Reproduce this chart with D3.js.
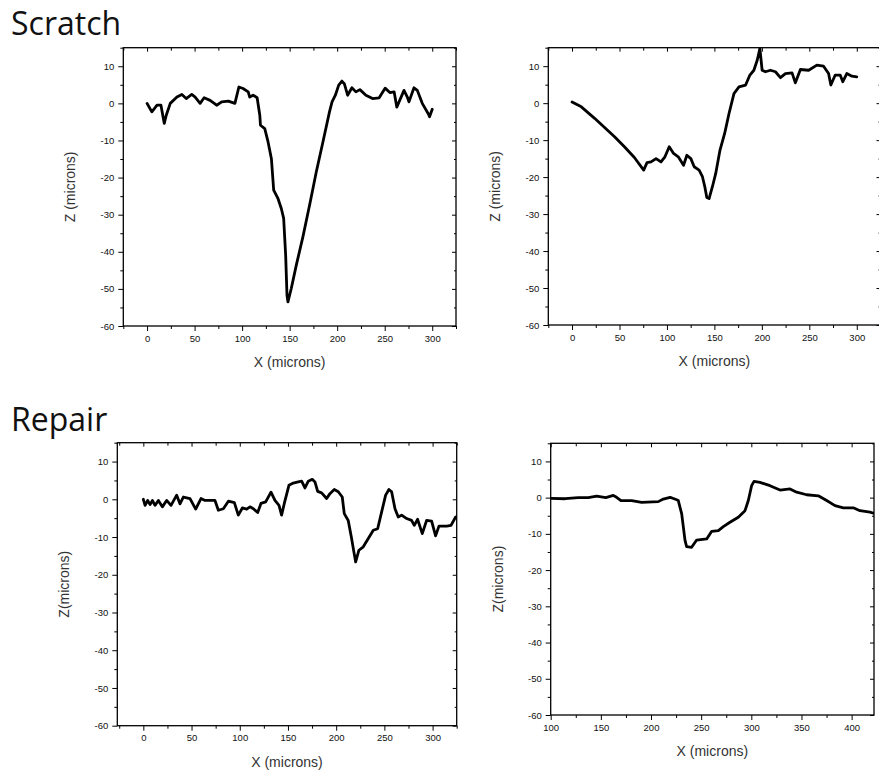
<!DOCTYPE html>
<html>
<head>
<meta charset="utf-8">
<script src="https://cdnjs.cloudflare.com/ajax/libs/d3/7.8.5/d3.min.js"></script>
<style>
  body { margin: 0; background: #fff; }
  svg { display: block; }
  .tick text { font-family: "Liberation Sans", Arial, sans-serif; font-size: 9.5px; fill: #111; }
  .axis path.domain { display: none; }
  .axis line { stroke: #000; stroke-width: 1; }
  .lab { font-family: "Liberation Sans", Arial, sans-serif; font-size: 14px; fill: #333; }
  .title { font-family: "Open Sans", sans-serif; font-size: 32px; fill: #111; }
</style>
</head>
<body>
<div id="chart"></div>
<script>
// Scratch, left profile
const scratchAX = [0, 5, 10.5, 14.6, 18.1, 20.2, 24.4, 31.4, 36.6, 41.2, 47, 50.6, 55.8, 60, 66.3, 73.2, 78.5, 85.5, 92.4, 96.6, 101, 106.4, 108, 111.6, 115.8, 118.6, 119.3, 123.8, 127.3, 130.8, 133.2, 137.8, 141.3, 143.7, 145.8, 147.2, 148.2, 151.7, 157, 164, 171, 178, 185, 191.9, 194.6, 198.1, 201.6, 205, 207.5, 211, 215.5, 219.7, 223.9, 230.2, 237.2, 244.2, 250.4, 255.4, 259.9, 262.7, 265.1, 270.3, 273.8, 275.5, 280.8, 284.3, 289.5, 295.8, 297.2, 300];
const scratchAZ = [0, -2.3, -0.5, -0.5, -5.4, -3.2, 0, 1.7, 2.4, 1.3, 2.4, 1.7, 0, 1.5, 0.8, -0.5, 0.4, 0.6, 0, 4.4, 4, 3.1, 1.7, 2.2, 1.5, -3.2, -5.9, -6.8, -10.4, -14.9, -23.4, -25.7, -28.4, -31, -40.9, -51.7, -53.5, -49.9, -43.6, -35.9, -27.4, -18.5, -10.4, -2.3, 0.4, 2.2, 4.9, 6, 5.3, 2.2, 4.2, 3.1, 3.7, 2.2, 1.3, 1.5, 4.1, 2.9, 3.1, -1, 0.4, 3.5, 1.7, 0.4, 4.2, 3.5, 0, -2.8, -3.6, -1.6];

// Scratch, right profile
const scratchBX = [0, 9.8, 23.8, 34.3, 44.8, 55.2, 65.7, 75.5, 79, 83.2, 88.5, 93.7, 97.9, 102.4, 107, 111.9, 117.5, 121, 125.2, 128.7, 133.9, 137.4, 139.9, 142, 144.4, 147.9, 151.4, 155.9, 160.8, 165.4, 170.6, 175.9, 182.9, 187.4, 191.6, 195.1, 197.9, 200.3, 203.8, 209, 214.3, 219.6, 224.8, 231.8, 235.3, 240.6, 249.3, 258, 265, 270.3, 272.7, 277.3, 282.5, 285.3, 289.5, 294.8, 300];
const scratchBZ = [0.3, -1, -4.1, -6.6, -9.1, -11.8, -14.7, -18.1, -16.1, -15.9, -15, -15.9, -14.5, -11.8, -13.6, -14.5, -16.8, -14.1, -15, -17.2, -18.1, -19.9, -22.6, -25.5, -25.8, -22.6, -19, -12.7, -8.2, -2.8, 2.6, 4.4, 4.9, 7.6, 8.9, 11.6, 14.8, 8.9, 8.5, 8.9, 8.5, 6.9, 8, 8.2, 5.5, 9.1, 8.9, 10.3, 10, 8, 4.9, 7.6, 7.6, 5.8, 8, 7.3, 7.1];

// Repair, left profile
const repairAX = [0, 1.8, 4.5, 7, 9.4, 12.1, 15.6, 19.7, 24.2, 28.7, 34.6, 38, 41.5, 48.4, 54.3, 59.8, 64, 74.3, 77.8, 83, 88.2, 94.4, 98.5, 102.7, 107.2, 110.6, 114.1, 118.6, 122, 126.9, 132.4, 136.5, 140.7, 143.4, 146.2, 151, 155.5, 160.7, 164.2, 167.6, 171.1, 175.2, 178, 180.8, 184.9, 190.1, 193.5, 198, 202.2, 206.3, 208.4, 212.5, 216, 218.4, 220.2, 223.6, 228.1, 233.3, 238.5, 243, 247.1, 251.3, 254.7, 257.5, 261, 264.4, 267.9, 273.1, 278.2, 281, 284.4, 289.3, 293.8, 299, 303.1, 306.6, 314.6, 319.1, 323.9, 327];
const repairAZ = [0, -1.6, -0.3, -1.4, -0.3, -1.6, -0.3, -2, -0.3, -1.6, 1.1, -1.2, 0.6, 0.2, -2.6, 0.2, -0.3, -0.3, -2.9, -2.5, -0.5, -0.9, -4.2, -2.3, -2.6, -2, -2.5, -3.5, -1.1, -0.7, 1.9, -0.3, -1.6, -4.2, -1.1, 3.7, 4.3, 4.6, 4.8, 3, 4.8, 5.3, 4.6, 2.1, 1.7, 0.2, 1.5, 2.6, 2, 0.6, -3.8, -5.6, -10.4, -14, -16.6, -13.5, -12.6, -10.4, -8.2, -7.8, -3.4, 1.1, 2.6, 2, -2.5, -4.7, -4.2, -5.1, -5.6, -6.9, -5.3, -9.1, -5.6, -5.8, -9.7, -7.1, -7.1, -6.9, -4.7, -4.4];

// Repair, right profile
const repairBX = [100, 114.3, 127.5, 137.5, 145.8, 155, 162.4, 165.7, 170, 180.7, 190.7, 207.3, 212.3, 219, 225.6, 227.2, 230.6, 233.9, 235.5, 240.5, 245.5, 255.5, 260.5, 267.1, 272.1, 278.7, 287, 293.7, 297, 300.3, 302.7, 308.6, 318.6, 328.6, 338.6, 345.2, 355.1, 366.8, 375.1, 383.4, 391.7, 401.7, 408.3, 418.3, 424.3];
const repairBZ = [-0.2, -0.3, 0, 0, 0.4, 0, 0.6, 0.1, -0.8, -0.8, -1.3, -1.1, -0.4, 0.1, -0.6, -0.8, -4.5, -11.8, -13.5, -13.7, -11.7, -11.4, -9.3, -9.1, -8, -6.8, -5.4, -3.6, -0.8, 3.3, 4.5, 4.2, 3.3, 2.1, 2.4, 1.5, 0.8, 0.5, -0.8, -2.2, -2.8, -2.8, -3.6, -4, -4.5];

// tick values
const zTicks = [10, 0, -10, -20, -30, -40, -50, -60];
const xTicksA = [0, 50, 100, 150, 200, 250, 300];
const xTicksB = [100, 150, 200, 250, 300, 350, 400];

const W = 879, H = 772;
const svg = d3.select("#chart").append("svg")
    .attr("width", W)
    .attr("height", H);

svg.append("text").attr("class", "title").attr("x", 11).attr("y", 35).text("Scratch");
svg.append("text").attr("class", "title").attr("x", 11).attr("y", 431).text("Repair");

const panels = [
    { id: "p1", xs: scratchAX, zs: scratchAZ, box: [123.3, 47.7, 456, 326], xDom: [-25, 325], xTicks: xTicksA, zLabel: "Z (microns)" },
    { id: "p2", xs: scratchBX, zs: scratchBZ, box: [548.3, 47.7, 880.5, 325], xDom: [-25, 325], xTicks: xTicksA, zLabel: "Z (microns)" },
    { id: "p3", xs: repairAX, zs: repairAZ, box: [117.3, 442.7, 456.7, 725.7], xDom: [-27, 325], xTicks: xTicksA, zLabel: "Z(microns)" },
    { id: "p4", xs: repairBX, zs: repairBZ, box: [550.7, 443.3, 874, 715], xDom: [100, 422.3], xTicks: xTicksB, zLabel: "Z(microns)" }
];

// plain hyphen for negatives, like the original
const fmt = d => String(d);
const minorsBetween = (dom, step) => d3.range(Math.ceil(dom[0] / step) * step, dom[1] + 0.001, step);

panels.forEach(p => {
    const [l, t, r, b] = p.box;
    const x = d3.scaleLinear().domain(p.xDom).range([l, r]);
    const y = d3.scaleLinear().domain([-60, 15]).range([b, t]);

    const g = svg.append("g").attr("id", p.id);

    const xMinor = minorsBetween(p.xDom, 25).filter(v => !p.xTicks.includes(v));
    const zMinor = minorsBetween([-60, 15], 5).filter(v => !zTicks.includes(v));

    // bottom axis (outward)
    g.append("g").attr("class", "axis").attr("transform", `translate(0,${b})`)
        .call(d3.axisBottom(x).tickValues(p.xTicks).tickSize(5).tickPadding(4).tickFormat(fmt));
    g.append("g").attr("class", "axis").attr("transform", `translate(0,${b})`)
        .call(d3.axisBottom(x).tickValues(xMinor).tickSize(3).tickFormat(""));

    // left axis (outward)
    g.append("g").attr("class", "axis").attr("transform", `translate(${l},0)`)
        .call(d3.axisLeft(y).tickValues(zTicks).tickSize(5).tickPadding(4).tickFormat(fmt));
    g.append("g").attr("class", "axis").attr("transform", `translate(${l},0)`)
        .call(d3.axisLeft(y).tickValues(zMinor).tickSize(3).tickFormat(""));

    // top axis, ticks pointing in
    g.append("g").attr("class", "axis").attr("transform", `translate(0,${t})`)
        .call(d3.axisBottom(x).tickValues(p.xTicks).tickSize(4).tickFormat(""));
    g.append("g").attr("class", "axis").attr("transform", `translate(0,${t})`)
        .call(d3.axisBottom(x).tickValues(xMinor).tickSize(3).tickFormat(""));

    // right axis, ticks pointing in
    g.append("g").attr("class", "axis").attr("transform", `translate(${r},0)`)
        .call(d3.axisLeft(y).tickValues(zTicks).tickSize(4).tickFormat(""));
    g.append("g").attr("class", "axis").attr("transform", `translate(${r},0)`)
        .call(d3.axisLeft(y).tickValues(zMinor).tickSize(2).tickFormat(""));

    // frame
    g.append("rect")
        .attr("x", l).attr("y", t)
        .attr("width", r - l).attr("height", b - t)
        .attr("fill", "none")
        .attr("stroke", "#000")
        .attr("stroke-width", 1.3);

    g.append("clipPath").attr("id", "clip-" + p.id)
        .append("rect").attr("x", l).attr("y", t).attr("width", r - l).attr("height", b - t);

    const line = d3.line()
        .x(i => x(p.xs[i]))
        .y(i => y(p.zs[i]));

    g.append("path")
        .attr("clip-path", `url(#clip-${p.id})`)
        .attr("d", line(d3.range(p.xs.length)))
        .attr("fill", "none")
        .attr("stroke", "#000")
        .attr("stroke-width", 2.8)
        .attr("stroke-linejoin", "round")
        .attr("stroke-linecap", "round");

    // axis titles
    g.append("text").attr("class", "lab")
        .attr("text-anchor", "middle")
        .attr("x", (l + r) / 2)
        .attr("y", b + 41)
        .text("X (microns)");

    g.append("text").attr("class", "lab")
        .attr("text-anchor", "middle")
        .attr("transform", `translate(${l - 48},${(t + b) / 2}) rotate(-90)`)
        .text(p.zLabel);
});
</script>
</body>
</html>
